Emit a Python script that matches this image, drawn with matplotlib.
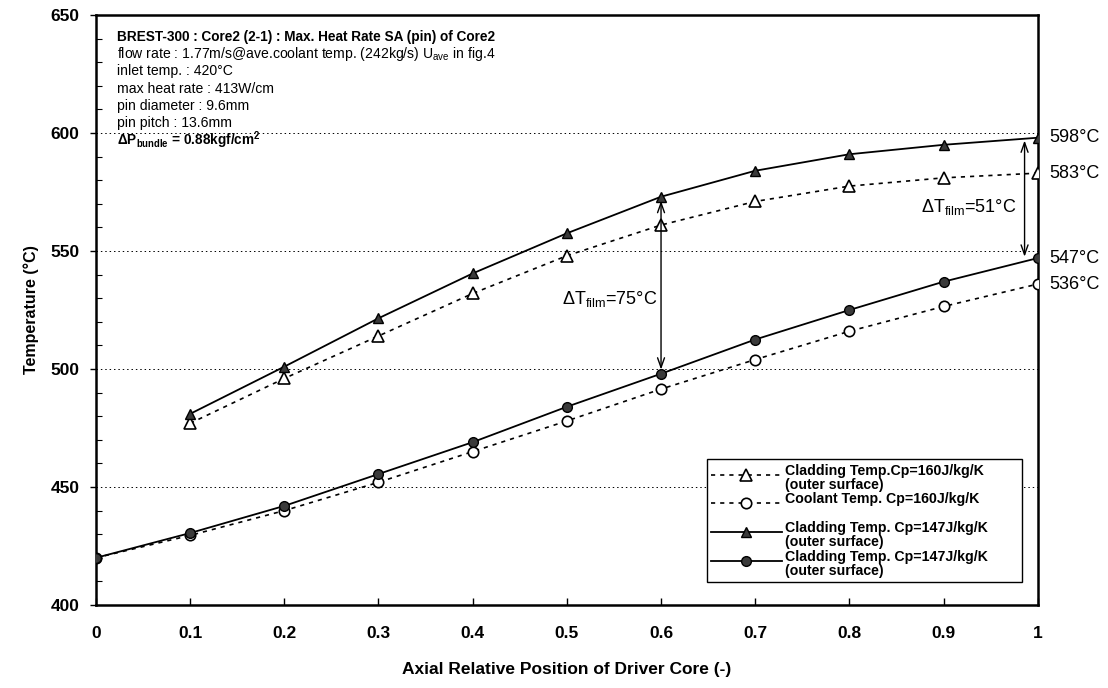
import numpy as np
import matplotlib
matplotlib.use("Agg")
import matplotlib.pyplot as plt
from matplotlib.ticker import MultipleLocator
from matplotlib.legend_handler import HandlerLine2D

plt.rcParams['font.family'] = ['Liberation Sans', 'DejaVu Sans']
plt.rcParams['mathtext.fontset'] = 'custom'
plt.rcParams['mathtext.rm'] = 'Liberation Sans'
plt.rcParams['mathtext.bf'] = 'Liberation Sans:bold'
plt.rcParams['mathtext.it'] = 'Liberation Sans:italic'

# axial positions
pos_all = [0.0, 0.1, 0.2, 0.3, 0.4, 0.5, 0.6, 0.7, 0.8, 0.9, 1.0]
pos_clad = [0.1, 0.2, 0.3, 0.4, 0.5, 0.6, 0.7, 0.8, 0.9, 1.0]
xtick_labels = ['0', '0.1', '0.2', '0.3', '0.4', '0.5', '0.6', '0.7', '0.8', '0.9', '1']

# temperatures (degC)
clad_cp160 = [477, 496, 514, 532, 548, 561, 571, 577.5, 581, 583]
cool_cp160 = [420, 429.5, 440, 452, 465, 478, 491.5, 504, 516, 526.5, 536]
clad_cp147 = [481, 501, 521.5, 540.5, 557.5, 573, 584, 591, 595, 598]
circ_cp147 = [420, 430.5, 442, 455.5, 469, 484, 498, 512.5, 525, 537, 547]

labels = ['Cladding Temp.Cp=160J/kg/K\n(outer surface)',
          'Coolant Temp. Cp=160J/kg/K\n ',
          'Cladding Temp. Cp=147J/kg/K\n(outer surface)',
          'Cladding Temp. Cp=147J/kg/K\n(outer surface)']

header = ['BREST-300 : Core2 (2-1) : Max. Heat Rate SA (pin) of Core2',
          'flow rate : 1.77m/s@ave.coolant temp. (242kg/s) U$_{\\mathrm{ave}}$ in fig.4',
          'inlet temp. : 420\u00b0C',
          'max heat rate : 413W/cm',
          'pin diameter : 9.6mm',
          'pin pitch : 13.6mm',
          '\u0394P$_{\\mathbf{bundle}}$ = 0.88kgf/cm$^{\\mathbf{2}}$']
header_bold = [True, False, False, False, False, False, True]


class FirstLineHandler(HandlerLine2D):
    # lift the sample up so it sits beside the first text line
    def __init__(self, shift=0.5, **kw):
        super().__init__(**kw)
        self.shift = shift

    def create_artists(self, legend, orig_handle, xdescent, ydescent,
                       width, height, fontsize, trans):
        return super().create_artists(legend, orig_handle, xdescent,
                                      ydescent - self.shift * fontsize,
                                      width, height, fontsize, trans)


fig = plt.figure(figsize=(11.08, 6.88), dpi=100)
ax = fig.add_axes([0.0866, 0.1206, 0.850, 0.8576])

dash = (0, (2.5, 3))
dark = '#3a3a3a'
l1, = ax.plot(pos_clad, clad_cp160, color='black', lw=1.2, ls=dash,
              marker='^', ms=8, mfc='white', mec='black', mew=1.2, zorder=3)
l2, = ax.plot(pos_all, cool_cp160, color='black', lw=1.2, ls=dash,
              marker='o', ms=7.5, mfc='white', mec='black', mew=1.2, zorder=3)
l3, = ax.plot(pos_clad, clad_cp147, color='black', lw=1.3, ls='-',
              marker='^', ms=6.5, mfc=dark, mec='black', mew=1.0, zorder=4)
l4, = ax.plot(pos_all, circ_cp147, color='black', lw=1.3, ls='-',
              marker='o', ms=7, mfc=dark, mec='black', mew=1.0, zorder=4)

ax.set_xlim(0, 1)
ax.set_ylim(400, 650)
ax.set_xticks(pos_all, labels=xtick_labels)
ax.yaxis.set_major_locator(MultipleLocator(50))
ax.yaxis.set_minor_locator(MultipleLocator(10))

for lvl in [450, 500, 550, 600]:
    ax.axhline(lvl, color='black', lw=0.7, ls=(0, (1.5, 3)), zorder=1)

for s in ax.spines.values():
    s.set_linewidth(1.8)

ax.tick_params(axis='x', direction='in', length=5, width=1, pad=15,
               labelsize=12.5)
ax.tick_params(axis='y', which='major', direction='out', length=4, width=1,
               pad=8, labelsize=12.5)
ax.tick_params(axis='y', which='minor', direction='in', length=4, width=0.8)
for t in ax.get_xticklabels() + ax.get_yticklabels():
    t.set_fontweight('bold')

ax.set_xlabel('Axial Relative Position of Driver Core (-)', fontsize=12.5,
              fontweight='bold', labelpad=15)
ax.set_ylabel('Temperature (\u00b0C)', fontsize=11.5, fontweight='bold',
              labelpad=8)

# header block
for i, (line, bold) in enumerate(zip(header, header_bold)):
    ax.text(0.022, 0.963 - i * 0.0293, line, transform=ax.transAxes,
            fontsize=9.8 if bold else 10.1,
            fontweight='bold' if bold else 'normal',
            va='center', ha='left')

# end-point labels
for val in [clad_cp147[-1], clad_cp160[-1], circ_cp147[-1], cool_cp160[-1]]:
    ax.annotate('%d\u00b0C' % round(val), xy=(1.0, val), xytext=(8, 0),
                textcoords='offset points', ha='left', va='center',
                fontsize=13, annotation_clip=False)

# film temperature rise arrows
arrow = dict(arrowstyle='<->,head_length=0.7,head_width=0.25',
             color='black', lw=1.0)
i6 = pos_clad.index(0.6)
j6 = pos_all.index(0.6)
top6, bot6 = clad_cp147[i6], circ_cp147[j6]
ax.annotate('', xy=(0.6, bot6), xytext=(0.6, top6),
            arrowprops=dict(arrow, shrinkA=3, shrinkB=3))
ax.annotate('\u0394T$_{\\mathrm{film}}$=%d\u00b0C' % round(top6 - bot6),
            xy=(0.6, (top6 + bot6) / 2 - 6), xytext=(-3, 0),
            textcoords='offset points', ha='right', va='center', fontsize=13)

xa = 0.986
top1, bot1 = clad_cp147[-1], circ_cp147[-1]
ax.annotate('', xy=(xa, bot1), xytext=(xa, top1),
            arrowprops=dict(arrow, shrinkA=2, shrinkB=1))
ax.annotate('\u0394T$_{\\mathrm{film}}$=%d\u00b0C' % round(top1 - bot1),
            xy=(xa, (top1 + bot1) / 2 - 4), xytext=(-6, 0),
            textcoords='offset points', ha='right', va='center', fontsize=13)

handles = [l1, l2, l3, l4]
leg = ax.legend(handles, labels, loc='lower right',
                bbox_to_anchor=(0.6486, 0.039, 0.983 - 0.6486, 0.212),
                mode='expand', borderaxespad=0, borderpad=0.3,
                handlelength=5.0, handletextpad=0.2, labelspacing=0.05,
                fancybox=False, framealpha=1, edgecolor='black',
                prop={'weight': 'bold', 'size': 10.2},
                handler_map={h: FirstLineHandler(0.5) for h in handles})
leg.get_frame().set_linewidth(1.0)
for t in leg.get_texts():
    t.set_linespacing(1.0)

fig.savefig('out.png', dpi=100)
